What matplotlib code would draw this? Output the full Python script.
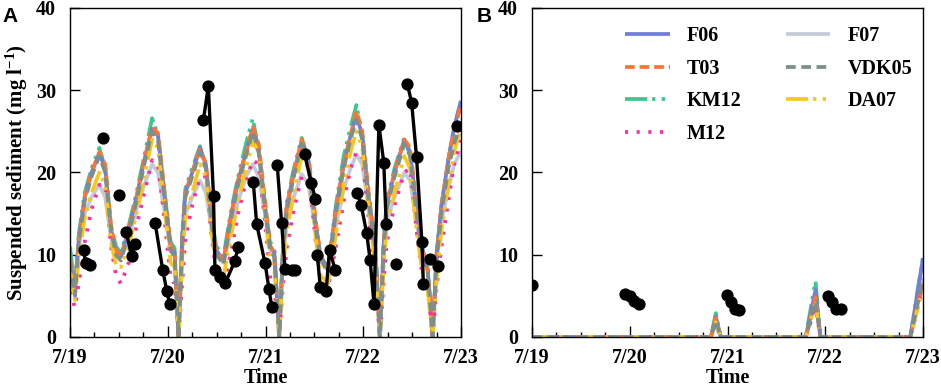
import numpy as np
import matplotlib
matplotlib.use("Agg")
import matplotlib.pyplot as plt
from matplotlib.ticker import MultipleLocator, FixedLocator

plt.rcParams['font.family'] = ['Liberation Serif', 'DejaVu Serif']
plt.rcParams['font.weight'] = 'bold'
plt.rcParams['mathtext.fontset'] = 'custom'
plt.rcParams['mathtext.rm'] = 'Liberation Serif:bold'
plt.rcParams['mathtext.default'] = 'rm'
plt.rcParams['lines.scale_dashes'] = False

# tempo em dias a partir de 7/19 00:00
t_mod = [0.00, 0.05, 0.09, 0.15, 0.22, 0.30, 0.36, 0.42, 0.47, 0.52,
         0.60, 0.68, 0.76, 0.84, 0.90, 0.97, 1.03, 1.07,
         1.11, 1.15, 1.18, 1.25, 1.33, 1.39, 1.45, 1.50, 1.57,
         1.65, 1.72, 1.80, 1.87, 1.93, 2.00, 2.05, 2.09,
         2.14, 2.18, 2.22, 2.29, 2.37, 2.44, 2.51, 2.56, 2.64,
         2.72, 2.80, 2.87, 2.93, 2.99, 3.06, 3.12,
         3.17, 3.21, 3.24, 3.32, 3.42, 3.48, 3.55, 3.61, 3.66,
         3.71, 3.75, 3.80, 3.87, 3.93, 4.00]

# painel A - modelos
f06_a = [9.5, 5.5, 12.0, 17.0, 20.0, 22.3, 20.5, 13.0, 10.5, 9.8,
         13.0, 17.0, 21.5, 25.3, 24.5, 17.0, 11.0, 10.3,
         0.0, 12.5, 17.5, 20.0, 23.0, 21.0, 14.0, 10.5, 9.3,
         15.0, 19.0, 22.5, 25.3, 23.0, 15.5, 11.0, 10.3,
         0.0, 11.0, 16.0, 20.0, 23.8, 21.5, 14.0, 10.0, 8.2,
         15.5, 21.0, 24.5, 27.0, 24.5, 16.5, 11.5,
         0.0, 11.5, 16.0, 20.0, 24.0, 22.5, 15.0, 10.5, 8.2,
         0.0, 10.0, 16.0, 21.5, 25.5, 28.7]
t03_a = [9.5, 5.3, 12.0, 17.0, 20.0, 22.5, 21.0, 13.5, 10.5, 9.7,
         13.0, 17.0, 21.5, 25.5, 24.8, 17.5, 11.0, 10.2,
         0.0, 12.5, 17.5, 20.0, 22.8, 21.0, 14.5, 10.5, 9.2,
         15.0, 19.0, 22.5, 25.5, 23.5, 16.0, 11.0, 10.2,
         0.0, 11.0, 16.0, 20.0, 24.0, 22.0, 14.5, 10.0, 8.0,
         15.5, 21.0, 24.5, 27.5, 25.0, 17.0, 11.5,
         0.0, 11.5, 16.0, 20.0, 24.0, 23.0, 15.5, 10.5, 8.0,
         0.0, 10.0, 16.0, 21.5, 25.0, 28.3]
km12_a = [11.0, 5.8, 12.5, 17.5, 20.5, 23.0, 20.5, 13.5, 11.0, 10.2,
          13.5, 17.5, 22.0, 26.6, 24.5, 17.0, 11.5, 10.8,
          0.0, 13.0, 18.0, 20.5, 23.2, 20.5, 14.0, 11.0, 9.8,
          15.5, 19.5, 23.5, 26.6, 22.5, 15.0, 11.5, 10.8,
          0.0, 11.5, 16.5, 20.5, 24.2, 21.5, 14.0, 10.2, 8.5,
          16.0, 22.0, 25.5, 28.2, 24.5, 16.5, 12.0,
          0.0, 12.0, 16.5, 20.5, 24.2, 22.0, 15.0, 10.5, 8.5,
          0.0, 10.0, 16.0, 21.5, 25.5, 28.7]
m12_a = [5.5, 3.6, 6.5, 11.5, 15.5, 18.5, 18.5, 11.0, 7.5, 6.5,
         9.0, 13.5, 17.5, 21.5, 21.0, 14.0, 7.0, 6.5,
         0.0, 7.0, 12.0, 16.0, 19.5, 19.5, 12.0, 7.5, 6.3,
         10.5, 15.0, 19.0, 21.5, 21.0, 13.5, 7.0, 6.0,
         0.0, 6.5, 11.0, 15.5, 19.5, 20.3, 12.0, 7.0, 6.0,
         11.0, 16.5, 20.5, 22.5, 22.0, 14.0, 7.0,
         0.0, 7.0, 11.5, 16.0, 20.0, 20.5, 12.5, 7.0, 6.0,
         0.0, 6.0, 11.0, 16.5, 21.0, 24.0]
f07_a = [10.0, 6.5, 11.0, 15.0, 17.0, 18.5, 17.0, 12.0, 10.0, 9.8,
         12.0, 15.5, 18.5, 21.0, 20.0, 15.0, 10.5, 10.0,
         0.0, 11.0, 15.0, 17.0, 19.0, 17.5, 13.0, 10.0, 9.0,
         13.0, 16.5, 19.5, 21.0, 19.5, 14.5, 10.5, 9.8,
         0.0, 10.0, 14.0, 17.0, 19.8, 18.5, 13.0, 9.5, 8.5,
         13.5, 18.0, 20.5, 22.2, 21.0, 15.0, 10.5,
         0.0, 10.0, 14.0, 17.0, 20.0, 19.0, 13.5, 10.0, 8.0,
         0.0, 9.0, 14.0, 18.0, 21.0, 22.6]
vdk05_a = [9.0, 5.0, 11.5, 16.5, 19.5, 22.0, 20.0, 13.0, 10.0, 9.3,
           12.5, 16.5, 21.0, 25.0, 24.0, 16.5, 10.5, 9.8,
           0.0, 12.0, 17.0, 19.5, 22.5, 20.5, 13.5, 10.0, 8.8,
           14.5, 18.5, 22.0, 25.0, 22.5, 15.0, 10.5, 9.8,
           0.0, 10.5, 15.5, 19.5, 23.5, 21.0, 13.5, 9.5, 7.8,
           15.0, 20.5, 24.0, 26.5, 24.0, 16.0, 11.0,
           0.0, 11.0, 15.5, 19.5, 23.5, 22.0, 14.5, 10.0, 7.8,
           0.0, 9.5, 15.0, 20.5, 23.5, 26.0]
da07_a = [8.0, 4.5, 9.5, 14.5, 17.5, 20.0, 18.5, 11.5, 8.8, 8.5,
          11.0, 15.0, 19.5, 24.0, 23.0, 15.5, 9.0, 8.5,
          0.0, 9.5, 14.5, 17.5, 21.0, 19.5, 12.5, 8.5, 7.3,
          12.5, 16.5, 20.5, 23.8, 22.5, 14.5, 9.0, 8.3,
          0.0, 8.5, 13.0, 17.5, 22.0, 20.5, 12.5, 7.5, 6.5,
          12.5, 18.5, 22.5, 25.0, 23.0, 15.0, 9.0,
          0.0, 9.0, 13.5, 17.5, 22.0, 20.5, 12.5, 7.5, 5.5,
          0.0, 7.0, 13.0, 18.5, 22.5, 25.5]

# painel B - modelos (zero fora dos picos)
t_mod_b = [0.00, 1.83, 1.88, 1.93, 2.80, 2.90, 2.95, 3.87, 4.00]
f06_b = [0, 0, 2.5, 0, 0, 5.7, 0, 0, 9.6]
t03_b = [0, 0, 2.3, 0, 0, 4.8, 0, 0, 6.5]
km12_b = [0, 0, 2.9, 0, 0, 6.8, 0, 0, 9.8]
m12_b = [0, 0, 1.5, 0, 0, 3.5, 0, 0, 6.0]
f07_b = [0, 0, 2.0, 0, 0, 4.4, 0, 0, 7.2]
vdk05_b = [0, 0, 2.0, 0, 0, 4.3, 0, 0, 7.0]
da07_b = [0, 0, 1.8, 0, 0, 4.0, 0, 0, 6.0]

# observacoes (cada trecho ligado por linha)
obs_a = [
    ([0.14, 0.16, 0.205], [10.6, 9.0, 8.8]),
    ([0.341], [24.2]),
    ([0.50], [17.3]),
    ([0.575, 0.63, 0.665], [12.8, 9.8, 11.3]),
    ([0.87, 0.948, 0.99, 1.02], [13.9, 8.2, 5.6, 4.0]),
    ([1.365, 1.415, 1.468, 1.483, 1.53, 1.59, 1.685, 1.72], [26.4, 30.5, 17.1, 8.1, 7.3, 6.6, 9.2, 10.9]),
    ([1.875, 1.91, 1.995, 2.036, 2.065], [18.8, 13.7, 9.0, 5.8, 3.6]),
    ([2.12, 2.165, 2.20, 2.27, 2.30], [20.9, 13.8, 8.3, 8.1, 8.2]),
    ([2.40, 2.47, 2.51], [22.2, 18.7, 16.8]),
    ([2.53, 2.56, 2.62, 2.655, 2.715], [10.0, 6.1, 5.6, 10.6, 8.1]),
    ([2.94, 2.98, 3.035, 3.07, 3.11, 3.16, 3.21, 3.235], [17.5, 16.0, 12.6, 9.4, 4.0, 25.8, 21.2, 13.7]),
    ([3.335], [8.9]),
    ([3.45, 3.495, 3.545, 3.60, 3.615], [30.8, 28.5, 21.9, 11.6, 6.4]),
    ([3.685, 3.765], [9.5, 8.6]),
    ([3.955], [25.7]),
]
obs_b = [
    ([0.0], [6.3]),
    ([0.95, 1.0, 1.045, 1.09], [5.2, 5.0, 4.4, 4.0]),
    ([1.995, 2.04, 2.077, 2.12], [5.1, 4.3, 3.4, 3.3]),
    ([3.03, 3.07, 3.11, 3.16], [5.0, 4.2, 3.4, 3.4]),
]

day_labels = ['7/19', '7/20', '7/21', '7/22', '7/23']

nomes = ['F06', 'T03', 'KM12', 'M12', 'F07', 'VDK05', 'DA07']
cores = {'F06': '#717fd8', 'T03': '#ff7433', 'KM12': '#3cc88a', 'M12': '#ff2ca3',
         'F07': '#c3cad8', 'VDK05': '#7d8f8b', 'DA07': '#f7c81c'}
estilos = {'F06': '-', 'T03': (0, (7, 3.5)), 'KM12': (0, (16, 3.5, 2.4, 4.5, 2.4, 4.5)),
           'M12': (0, (2.2, 6.2)), 'F07': '-', 'VDK05': (0, (7, 4)),
           'DA07': (0, (16, 3.5, 2.4, 4.5, 2.4, 4.5))}
ordem = ['F07', 'KM12', 'F06', 'T03', 'M12', 'DA07', 'VDK05']

dados_a = {'F06': f06_a, 'T03': t03_a, 'KM12': km12_a, 'M12': m12_a,
           'F07': f07_a, 'VDK05': vdk05_a, 'DA07': da07_a}
dados_b = {'F06': f06_b, 'T03': t03_b, 'KM12': km12_b, 'M12': m12_b,
           'F07': f07_b, 'VDK05': vdk05_b, 'DA07': da07_b}

fig = plt.figure(figsize=(9.41, 3.90), dpi=100)
ax_a = fig.add_axes([0.0744, 0.1359, 0.4155, 0.8436])
ax_b = fig.add_axes([0.5654, 0.1359, 0.4155, 0.8436])

handles = {}
for ax, t, dados, obs in [(ax_a, t_mod, dados_a, obs_a), (ax_b, t_mod_b, dados_b, obs_b)]:
    for nome in ordem:
        ln, = ax.plot(t, dados[nome], color=cores[nome], linestyle=estilos[nome],
                      lw=2.7, solid_capstyle='butt', dash_capstyle='butt', label=nome)
        handles[nome] = ln
    for tt, vv in obs:
        ax.plot(tt, vv, color='black', lw=2.4, marker='o', markersize=7.8, zorder=10)

    ax.set_xlim(0, 4)
    ax.set_ylim(0, 40)
    ax.xaxis.set_major_locator(FixedLocator([0, 1, 2, 3, 4]))
    ax.set_xticklabels(day_labels)
    ax.xaxis.set_minor_locator(MultipleLocator(0.25))
    ax.yaxis.set_major_locator(MultipleLocator(10))
    ax.tick_params(axis='x', which='major', direction='in', length=8, width=1, pad=8, labelsize=14.5)
    ax.tick_params(axis='x', which='minor', direction='in', length=3.5, width=1)
    ax.tick_params(axis='y', which='major', direction='in', length=7.5, width=1, pad=10, labelsize=14.5)
    for lab in ax.get_xticklabels() + ax.get_yticklabels():
        lab.set_fontweight('bold')
    for sp in ax.spines.values():
        sp.set_linewidth(1.0)
    ax.set_xlabel('Time', fontsize=14.5, fontweight='bold', labelpad=0)

ax_a.set_ylabel('Suspended sediment (mg l$^{-1}$)', fontsize=15, fontweight='bold', labelpad=4)

leg = ax_b.legend([handles[n] for n in nomes], nomes, ncol=2, frameon=False,
                  loc='upper left', bbox_to_anchor=(0.213, 0.975), borderpad=0,
                  handlelength=2.2, handletextpad=0.85, columnspacing=2.2,
                  labelspacing=0.62, prop={'family': 'Liberation Serif', 'weight': 'bold', 'size': 14.5})

fig.text(0.003, 0.982, 'A', fontsize=15, fontweight='bold', family='Liberation Sans', va='top', ha='left')
fig.text(0.506, 0.982, 'B', fontsize=15, fontweight='bold', family='Liberation Sans', va='top', ha='left')

fig.savefig('out.png', dpi=100)
